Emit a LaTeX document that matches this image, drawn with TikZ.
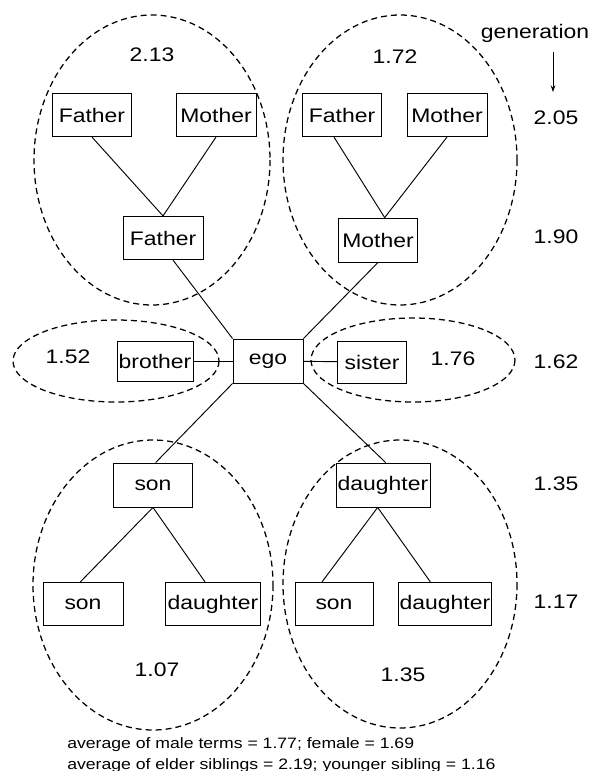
\documentclass[tikz,border=0pt]{standalone}
\usepackage{fontspec}
\setmainfont{Liberation Sans}[FakeStretch=1.17]
\usetikzlibrary{arrows.meta}

\tikzset{
	kin/.style={draw, line width=0.65pt, minimum width=59pt, minimum height=32.5pt, inner sep=1pt, font=\fontsize{14.7}{17}\selectfont},
	val/.style={font=\fontsize{14.7}{17}\selectfont},
	note/.style={font=\fontsize{11.3}{13}\selectfont, anchor=base west, inner sep=0pt},
	ring/.style={dash pattern=on 4.5pt off 3pt, line width=0.95pt},
	tie/.style={line width=0.7pt}
}

\begin{document}
\begin{tikzpicture}[x=0.75pt, y=-0.75pt]
	\useasboundingbox (0,0) rectangle (593,771);

	\draw[ring] (152,160) ellipse [x radius=118, y radius=145];
	\draw[ring] (400,160) ellipse [x radius=117, y radius=145];
	\draw[ring] (116,361) ellipse [x radius=103, y radius=41];
	\draw[ring] (413,360) ellipse [x radius=102, y radius=42];
	\draw[ring] (153,585) ellipse [x radius=120, y radius=145];
	\draw[ring] (400,584) ellipse [x radius=117, y radius=144];

	\node[kin] (fa1) at (92,115) {Father};
	\node[kin, minimum width=60pt] (mo1) at (216,115) {Mother};
	\node[kin, minimum width=60pt] (fam) at (163,238) {Father};
	\node[kin] (fa2) at (342,115) {Father};
	\node[kin, minimum width=60pt] (mo2) at (447,115) {Mother};
	\node[kin, minimum height=33pt] (mom) at (378,240) {Mother};

	\node[kin, minimum width=57pt, minimum height=30pt] (bro) at (155,361) {brother};
	\node[kin, minimum width=52.5pt, minimum height=33pt] (ego) at (268,361) {ego};
	\node[kin, minimum width=52pt, minimum height=31.5pt] (sis) at (372,362) {sister};

	\node[kin, minimum height=33pt] (son) at (153,485) {son};
	\node[kin, minimum width=70.5pt, minimum height=33pt] (dau) at (383,485) {daughter};
	\node[kin, minimum width=60pt] (son1) at (83,604) {son};
	\node[kin, minimum width=71pt] (dau1) at (213,604) {daughter};
	\node[kin, minimum width=58.5pt] (son2) at (334,604) {son};
	\node[kin, minimum width=70pt] (dau2) at (445,604) {daughter};

	\node[val] (v213) at (152,55) {2.13};
	\node[val] (v172) at (395,57) {1.72};
	\node[val, anchor=base] (gen) at (535,38) {generation};
	\node[val] (v205) at (556,118) {2.05};
	\node[val] (v190) at (556,237) {1.90};
	\node[val] (v152) at (68,357) {1.52};
	\node[val] (v176) at (453,359) {1.76};
	\node[val] (v162) at (556,362) {1.62};
	\node[val] (v135a) at (556,484) {1.35};
	\node[val] (v117) at (556,602) {1.17};
	\node[val] (v107) at (157,670) {1.07};
	\node[val] (v135b) at (403,675) {1.35};

	\node[note] (avg1) at (67,748) {average of male terms = 1.77; female = 1.69};
	\node[note] (avg2) at (67,769) {average of elder siblings = 2.19; younger sibling = 1.16};

	\coordinate (genend) at (553,92);
	\draw[tie, shorten <=4pt, -{Stealth[length=5pt, width=3.5pt]}] (gen.south -| genend) -- (genend);

	\path[tie]
	(fa1.south) edge (fam.north)
	(mo1.south) edge (fam.north)
	([xshift=-6pt]fa2.south) edge ([xshift=5pt]mom.north)
	(mo2.south) edge ([xshift=5pt]mom.north)
	(ego.north west) edge ([xshift=7.5pt]fam.south)
	(ego.north east) edge (mom.south)
	(bro) edge (ego)
	(ego) edge (sis)
	(ego.south west) edge ([xshift=2pt]son.north)
	(ego.south east) edge ([xshift=2pt]dau.north)
	(son.south) edge ([xshift=-2pt]son1.north)
	(son.south) edge ([xshift=-6pt]dau1.north)
	([xshift=-4pt]dau.south) edge ([xshift=-9pt]son2.north)
	([xshift=-4pt]dau.south) edge ([xshift=-11pt]dau2.north)
	;
\end{tikzpicture}
\end{document}
